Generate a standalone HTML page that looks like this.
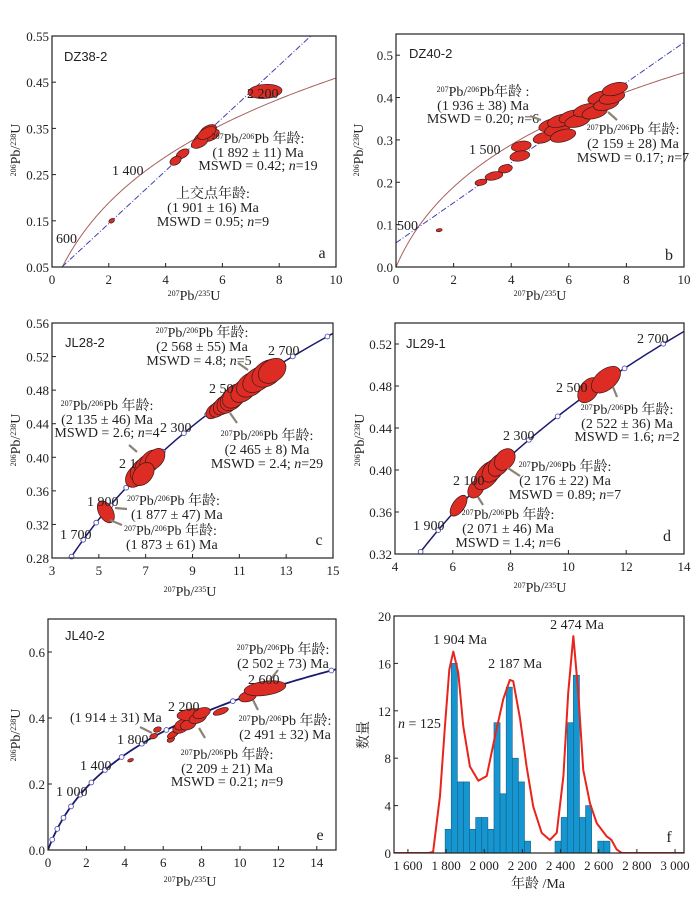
<!DOCTYPE html>
<html><head><meta charset="utf-8">
<style>
html,body{margin:0;padding:0;background:#fff;}
svg{display:block;}
text{font-family:"Liberation Serif","Noto Serif CJK SC","Noto Sans CJK SC",serif;fill:#222;}
.sans{font-family:"Liberation Sans","Noto Sans CJK SC",sans-serif;}
</style></head>
<body>
<svg id="fig" width="700" height="912" viewBox="0 0 700 912" xmlns="http://www.w3.org/2000/svg"></svg>
<script>
// ---------- histogram data (panel f) ----------
const binStarts = [1795,1827,1859,1891,1923,1955,1987,2019,2051,2083,2115,2147,2179,2211,2371,2403,2435,2467,2499,2531,2595,2627];
const binCounts = [2,16,6,6,2,3,3,2,11,5,14,8,6,1,1,3,11,15,3,4,1,1];
const binWidth = 32;
const kdeAges = [1497,1710,1732,1768,1794,1817,1838,1864,1890,1925,1969,2013,2057,2100,2134,2152,2188,2222,2257,2301,2344,2380,2415,2440,2467,2493,2519,2554,2590,2642,2667,2694,2721,2776,3047];
const kdeVals = [0,0,0.1,4.8,10.7,15.5,17,15.2,10.7,7.3,6.1,6.5,9.9,13,14.6,14.5,11.3,7.3,3.9,1.7,1.1,1.7,6.5,13.5,18.3,13.5,7,4.2,2.5,1.4,1.1,0.3,0,0,0];
const fXTicks = [1600,1800,2000,2200,2400,2600,2800,3000];
const fXTickLabels = ["1 600","1 800","2 000","2 200","2 400","2 600","2 800","3 000"];
const fYTicks = [0,4,8,12,16,20];

// ---------- ellipse data (centres, data units) ----------
const aEllX = [7.5,5.5,5.3,5.6,5.2,5.45,4.6,4.35,2.1];
const aEllY = [0.43,0.345,0.33,0.335,0.32,0.34,0.295,0.28,0.15];
const bEllX = [1.5,2.95,3.4,3.8,4.35,4.3,5.1,5.4,5.6,5.8,5.7,6.1,6.3,6.6,6.9,7.1,7.3,7.5,7.6];
const bEllY = [0.087,0.2,0.215,0.232,0.285,0.262,0.305,0.335,0.325,0.31,0.345,0.355,0.345,0.37,0.365,0.4,0.385,0.4,0.42];
const cEllX = [5.3,6.6,6.8,7.0,7.2,7.4,6.9,9.9,10.1,10.3,10.5,10.7,10.8,11.2,11.5,11.8,12.2,12.4];
const cEllY = [0.335,0.378,0.385,0.39,0.395,0.398,0.38,0.455,0.458,0.462,0.465,0.47,0.473,0.48,0.487,0.493,0.5,0.503];
const dEllX = [6.2,6.8,7.2,7.4,7.6,7.8,10.7,11.3];
const dEllY = [0.366,0.382,0.395,0.4,0.405,0.41,0.476,0.486];
const eEllX = [4.3,5.5,5.7,6.4,6.5,6.9,7.0,7.3,7.5,7.8,8.0,9.0,10.4,11.3];
const eEllY = [0.272,0.345,0.365,0.335,0.35,0.37,0.38,0.38,0.41,0.4,0.415,0.42,0.465,0.49];

// ---------- axis ticks ----------
const aXTicks=[0,2,4,6,8,10], aYTicks=[0.05,0.15,0.25,0.35,0.45,0.55];
const bXTicks=[0,2,4,6,8,10], bYTicks=[0.0,0.1,0.2,0.3,0.4,0.5];
const cXTicks=[3,5,7,9,11,13,15], cYTicks=[0.28,0.32,0.36,0.40,0.44,0.48,0.52,0.56];
const dXTicks=[4,6,8,10,12,14], dYTicks=[0.32,0.36,0.40,0.44,0.48,0.52];
const eXTicks=[0,2,4,6,8,10,12,14], eYTicks=[0.0,0.2,0.4,0.6];

const NS="http://www.w3.org/2000/svg";
const svg=document.getElementById('fig');
function el(tag,attrs,parent){const e=document.createElementNS(NS,tag);for(const k in attrs)e.setAttribute(k,attrs[k]);(parent||svg).appendChild(e);return e;}

function makePanel(id,L,R,T,B,x0,x1,y0,y1){
  const g=el('g',{});
  
  
  const cp=el('clipPath',{id:'clip-'+id},g);
  el('rect',{x:L,y:T,width:R-L,height:B-T},cp);
  return {id,g,L,R,T,B,sx:v=>L+(v-x0)/(x1-x0)*(R-L),sy:v=>B-(v-y0)/(y1-y0)*(B-T)};
}
function frame(p){
  const r=el('rect',{x:p.L,y:p.T,width:p.R-p.L,height:p.B-p.T,fill:'none',stroke:'#222','stroke-width':1.2},p.g);
  
  
}
function ticks(p,xt,xl,yt,yl){
  xt.forEach((v,i)=>{
    const x=p.sx(v);
    el('line',{x1:x,y1:p.B,x2:x,y2:p.B-4,stroke:'#222','stroke-width':1},p.g);
    const t=el('text',{x:x,y:p.B+17,'text-anchor':'middle','font-size':13},p.g);
    t.textContent=xl?xl[i]:String(v);
    
    
  });
  yt.forEach((v,i)=>{
    const y=p.sy(v);
    el('line',{x1:p.L,y1:y,x2:p.L+4,y2:y,stroke:'#222','stroke-width':1},p.g);
    const t=el('text',{x:p.L-3,y:y+5,'text-anchor':'end','font-size':13},p.g);
    t.textContent=yl?yl[i]:String(v);
    
    
  });
}
function txt(p,x,y,parts,anchor,size,cls,name){
  const t=el('text',{x:x,y:y,'text-anchor':anchor||'middle','font-size':size||14},p.g);
  if(cls)t.setAttribute('class',cls);
  
  
  parts.forEach(pt=>{
    const s=el('tspan',{},t);
    if(typeof pt==='string'){s.textContent=pt;}
    else{s.textContent=pt.t; if(pt.sup){s.setAttribute('font-size',8);s.setAttribute('baseline-shift','super');} if(pt.i)s.setAttribute('font-style','italic');}
  });
  return t;
}
const P76=[{t:'207',sup:1},'Pb/',{t:'206',sup:1},'Pb 年龄:'];
function arrow(p,x1,y1,x2,y2){
  const l=el('line',{x1,y1,x2,y2,stroke:'#8c8275','stroke-width':2.2},p.g);
  
  
}
function axisLabels(p,xc,xy,yx,yc){
  txt(p,xc,xy,[{t:'207',sup:1},'Pb/',{t:'235',sup:1},'U'],'middle',14,null,'x-axis-title');
  const y=el('text',{x:0,y:0,'text-anchor':'middle','font-size':14,transform:`translate(${yx},${yc}) rotate(-90)`},p.g);
  
  
  [{t:'206',s:1},{t:'Pb/'},{t:'238',s:1},{t:'U'}].forEach(o=>{const s=el('tspan',{},y);s.textContent=o.t;if(o.s){s.setAttribute('font-size',8);s.setAttribute('baseline-shift','super');}});
}
const L238=1.55125e-10, L235=9.8485e-10;
function concordia(p,color,width,tmax){
  let d='';
  for(let t=0;t<=tmax;t+=10){const x=Math.exp(L235*t*1e6)-1,y=Math.exp(L238*t*1e6)-1;d+=(t?'L':'M')+p.sx(x).toFixed(2)+','+p.sy(y).toFixed(2);}
  const path=el('path',{d,fill:'none',stroke:color,'stroke-width':width,'clip-path':`url(#clip-${p.id})`},p.g);
  
  
}
function markers(p,step,tmax){
  for(let t=step;t<=tmax;t+=step){
    const x=Math.exp(L235*t*1e6)-1,y=Math.exp(L238*t*1e6)-1;
    const px=p.sx(x),py=p.sy(y);
    if(px<p.L||px>p.R||py<p.T||py>p.B)continue;
    const c=el('circle',{cx:px,cy:py,r:2.4,fill:'#fff',stroke:'#5050b0','stroke-width':0.9},p.g);
    
    
  }
}
function discordia(p,xa,ya,xb,yb){
  const l=el('line',{x1:p.sx(xa),y1:p.sy(ya),x2:p.sx(xb),y2:p.sy(yb),stroke:'#4040b0','stroke-width':1,'stroke-dasharray':'6 2 1 2','clip-path':`url(#clip-${p.id})`},p.g);
  
  
}
function ellipses(p,xs,ys,shape){
  xs.forEach((v,i)=>{
    const s=shape[i]||shape[shape.length-1];
    const cx=p.sx(v),cy=p.sy(ys[i]);
    const e=el('ellipse',{cx,cy,rx:s[0],ry:s[1],transform:`rotate(${s[2]} ${cx} ${cy})`,fill:'#dd2c24',stroke:'#3a1a1a','stroke-width':0.7},p.g);
    
    
  });
}

// ===== Panel a =====
const pa=makePanel('a',52,336,36,267,0,10,0.05,0.55);
concordia(pa,'#a8605a',1,4500);
discordia(pa,0.35,0.05,9.2,0.555);
ellipses(pa,aEllX,aEllY,[[17,7,-4],[9,5,-28],[9,5,-28],[9,5,-28],[9,5,-28],[10,5,-28],[7,4,-30],[6,4,-30],[3,2,-30]]);
frame(pa);ticks(pa,aXTicks,null,aYTicks,["0.05","0.15","0.25","0.35","0.45","0.55"]);
txt(pa,64,61,['DZ38-2'],'start',13,'sans','sample-label');
txt(pa,247,98,['2 200'],'start');
txt(pa,258,143,P76);txt(pa,258,157,['(1 892 ± 11) Ma']);txt(pa,258,170,['MSWD = 0.42; ',{t:'n',i:1},'=19']);
txt(pa,112,175,['1 400'],'start');
txt(pa,213,198,['上交点年龄:']);txt(pa,213,212,['(1 901 ± 16) Ma']);txt(pa,213,226,['MSWD = 0.95; ',{t:'n',i:1},'=9']);
txt(pa,56,243,['600'],'start');
txt(pa,322,258,['a'],'middle',16,null,'panel-letter');
axisLabels(pa,194,300,20,150);

// ===== Panel b =====
const pb=makePanel('b',396,684,34,267,0,10,0,0.55);
concordia(pb,'#a8605a',1,4500);
discordia(pb,0,0.057,10,0.53);
ellipses(pb,bEllX,bEllY,[[3,1.5,-10],[6,3,-12],[9,4,-12],[7,4,-12],[10,5,-10],[10,5,-10],[10,5,-15],[13,6,-15]]);
frame(pb);ticks(pb,bXTicks,null,bYTicks,["0.0","0.1","0.2","0.3","0.4","0.5"]);
txt(pb,409,58,['DZ40-2'],'start',13,'sans','sample-label');
txt(pb,483,96,[{t:'207',sup:1},'Pb/',{t:'206',sup:1},'Pb年龄 :']);txt(pb,483,110,['(1 936 ± 38) Ma']);txt(pb,483,123,['MSWD = 0.20; ',{t:'n',i:1},'=6']);
arrow(pb,530,116,541,120);
txt(pb,633,134,P76);txt(pb,633,148,['(2 159 ± 28) Ma']);txt(pb,633,162,['MSWD = 0.17; ',{t:'n',i:1},'=7']);
arrow(pb,608,112,617,120);
txt(pb,469,154,['1 500'],'start');
txt(pb,397,230,['500'],'start');
txt(pb,669,260,['b'],'middle',16,null,'panel-letter');
axisLabels(pb,540,300,363,150);

// ===== Panel c =====
const pc=makePanel('c',52,333,323,558,3,15,0.28,0.56);
concordia(pc,'#1a1a70',1.5,3200);markers(pc,100,3200);
ellipses(pc,cEllX,cEllY,[[7,12,-30],[13,9,-50],[13,9,-50],[13,9,-50],[13,9,-50],[12,8,-50],[13,9,-50],[9,6,-45],[10,7,-45],[11,8,-45],[12,9,-45],[14,10,-45],[14,10,-45],[15,10,-40],[16,11,-35],[17,11,-35],[17,12,-35],[15,11,-35]]);
frame(pc);ticks(pc,cXTicks,null,cYTicks,["0.28","0.32","0.36","0.40","0.44","0.48","0.52","0.56"]);
txt(pc,65,347,['JL28-2'],'start',13,'sans','sample-label');
txt(pc,202,337,P76);txt(pc,202,351,['(2 568 ± 55) Ma']);txt(pc,199,365,['MSWD = 4.8; ',{t:'n',i:1},'=5']);
arrow(pc,238,363,248,370);
txt(pc,268,355,['2 700'],'start');
txt(pc,209,393,['2 50'],'start');
txt(pc,107,410,P76);txt(pc,107,424,['(2 135 ± 46) Ma']);txt(pc,107,437,['MSWD = 2.6; ',{t:'n',i:1},'=4']);
arrow(pc,129,445,137,452);
txt(pc,160,432,['2 300'],'start');
txt(pc,267,440,P76);txt(pc,267,454,['(2 465 ± 8) Ma']);txt(pc,267,468,['MSWD = 2.4; ',{t:'n',i:1},'=29']);
arrow(pc,230,413,237,423);
txt(pc,119,468,['2 1'],'start');
txt(pc,87,506,['1 900'],'start');
txt(pc,127,505,P76,'start');txt(pc,131,519,['(1 877 ± 47) Ma'],'start');
arrow(pc,115,508,127,509);
arrow(pc,110,520,122,525);
txt(pc,124,535,P76,'start');txt(pc,126,549,['(1 873 ± 61) Ma'],'start');
txt(pc,60,539,['1 700'],'start');
txt(pc,319,545,['c'],'middle',16,null,'panel-letter');
axisLabels(pc,190,596,20,440);

// ===== Panel d =====
const pd=makePanel('d',395,684,323,554,4,14,0.32,0.54);
concordia(pd,'#1a1a70',1.5,3200);markers(pd,100,3200);
ellipses(pd,dEllX,dEllY,[[12,6,-55],[10,7,-55],[17,10,-50],[14,9,-50],[13,9,-50],[12,9,-50],[14,9,-55],[17,10,-40]]);
frame(pd);ticks(pd,dXTicks,null,dYTicks,["0.32","0.36","0.40","0.44","0.48","0.52"]);
txt(pd,406,348,['JL29-1'],'start',13,'sans','sample-label');
txt(pd,637,343,['2 700'],'start');
txt(pd,556,392,['2 500'],'start');
arrow(pd,613,387,617,397);
txt(pd,627,414,P76);txt(pd,627,428,['(2 522 ± 36) Ma']);txt(pd,627,441,['MSWD = 1.6; ',{t:'n',i:1},'=2']);
txt(pd,503,440,['2 300'],'start');
arrow(pd,508,468,520,476);
txt(pd,565,471,P76);txt(pd,565,485,['(2 176 ± 22) Ma']);txt(pd,565,499,['MSWD = 0.89; ',{t:'n',i:1},'=7']);
txt(pd,453,485,['2 100'],'start');
arrow(pd,478,497,483,505);
txt(pd,508,519,P76);txt(pd,508,533,['(2 071 ± 46) Ma']);txt(pd,508,547,['MSWD = 1.4; ',{t:'n',i:1},'=6']);
txt(pd,413,530,['1 900'],'start');
txt(pd,667,541,['d'],'middle',16,null,'panel-letter');
axisLabels(pd,540,592,364,440);

// ===== Panel e =====
const pe=makePanel('e',48,336,619,850,0,15,0,0.7);
concordia(pe,'#1a1a70',1.8,3200);markers(pe,200,3200);
ellipses(pe,eEllX,eEllY,[[3,1.5,-20],[4,2.5,-20],[4,2.5,-20],[4,2.5,-30],[6,3,-30],[8,5,-20],[8,5,-20],[8,5,-20],[15,6,-5],[9,5,-20],[9,5,-20],[8,3,-20],[9,5,-15],[21,7,-8]]);
frame(pe);ticks(pe,eXTicks,null,eYTicks,["0.0","0.2","0.4","0.6"]);
txt(pe,65,640,['JL40-2'],'start',13,'sans','sample-label');
txt(pe,283,654,P76);txt(pe,283,668,['(2 502 ± 73) Ma']);
arrow(pe,270,680,278,670);
txt(pe,248,684,['2 600'],'start');
txt(pe,285,725,P76);txt(pe,285,739,['(2 491 ± 32) Ma']);
arrow(pe,253,700,258,710);
txt(pe,168,711,['2 200'],'start');
txt(pe,70,722,['(1 914 ± 31) Ma'],'start');
arrow(pe,140,727,152,733);
txt(pe,117,744,['1 800'],'start');
arrow(pe,199,728,205,738);
txt(pe,227,759,P76);txt(pe,227,773,['(2 209 ± 21) Ma']);txt(pe,227,786,['MSWD = 0.21; ',{t:'n',i:1},'=9']);
txt(pe,80,770,['1 400'],'start');
txt(pe,56,796,['1 000'],'start');
txt(pe,320,840,['e'],'middle',16,null,'panel-letter');
axisLabels(pe,190,886,20,735);

// ===== Panel f =====
const pf=makePanel('f',394,684,616,853,1527,3047,0,20);
binStarts.forEach((b,i)=>{
  const x=pf.sx(b),w=pf.sx(b+binWidth)-x,y=pf.sy(binCounts[i]);
  const r=el('rect',{x,y,width:w,height:pf.B-y,fill:'#1596d0',stroke:'#1a5f85','stroke-width':0.6},pf.g);
  
  
});
{
  let d='';kdeAges.forEach((a,i)=>{d+=(i?'L':'M')+pf.sx(a).toFixed(2)+','+pf.sy(kdeVals[i]).toFixed(2);});
  const k=el('path',{d,fill:'none',stroke:'#e8241c','stroke-width':2,'stroke-linejoin':'round','clip-path':'url(#clip-f)'},pf.g);
  
  
}
frame(pf);ticks(pf,fXTicks,fXTickLabels,fYTicks,null);
txt(pf,460,644,['1 904 Ma']);txt(pf,515,668,['2 187 Ma']);txt(pf,577,629,['2 474 Ma']);
txt(pf,398,728,[{t:'n',i:1},' = 125'],'start');
txt(pf,669,842,['f'],'middle',16,null,'panel-letter');
txt(pf,538,888,['年龄 /Ma'],'middle',14,null,'x-axis-title');
{
  const y=el('text',{x:0,y:0,'text-anchor':'middle','font-size':14,transform:'translate(368,735) rotate(-90)'},pf.g);
  y.textContent='数量';
  
  
}
</script>
</body></html>
